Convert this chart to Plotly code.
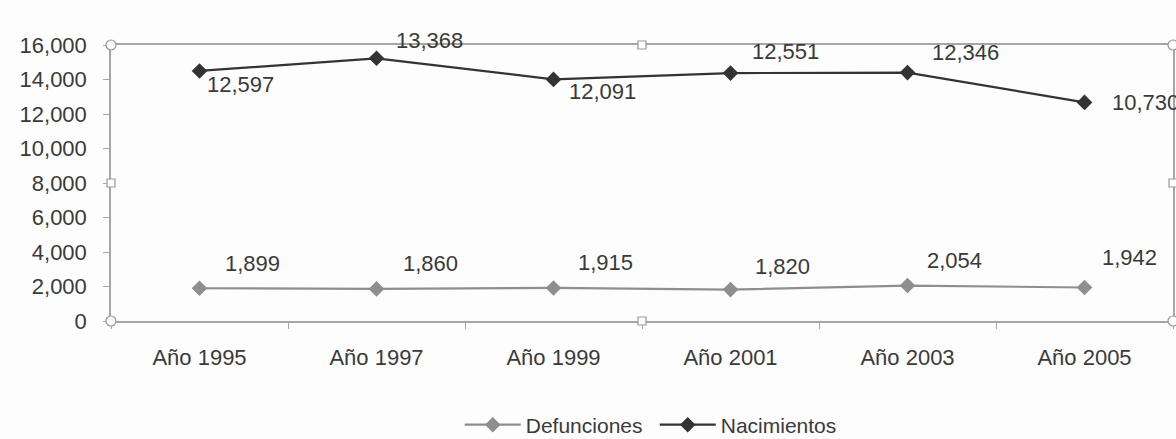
import numpy as np
import plotly.graph_objects as go

categories = ["Año 1995", "Año 1997", "Año 1999", "Año 2001", "Año 2003", "Año 2005"]
defunciones = [1899, 1860, 1915, 1820, 2054, 1942]
nacimientos = [12597, 13368, 12091, 12551, 12346, 10730]
y_ticks = [0, 2000, 4000, 6000, 8000, 10000, 12000, 14000, 16000]

FONT = "Liberation Sans, Arial, sans-serif"
TXT = "#3a3a3a"
DEF_COL = "#8e8e8e"
NAC_COL = "#333333"
AX_COL = "#a6a6a6"

fig = go.Figure()
fig.add_trace(go.Scatter(
    x=categories, y=defunciones, name="Defunciones", mode="lines+markers",
    stackgroup="one", fill="none",
    line=dict(color=DEF_COL, width=2.2),
    marker=dict(symbol="diamond", size=12, color=DEF_COL),
))
fig.add_trace(go.Scatter(
    x=categories, y=nacimientos, name="Nacimientos", mode="lines+markers",
    stackgroup="one", fill="none",
    line=dict(color=NAC_COL, width=2.2),
    marker=dict(symbol="diamond", size=12, color=NAC_COL),
))

stacked_nac = (np.array(defunciones) + np.array(nacimientos)).tolist()

# label offsets (pixels) to mimic the original placement
def_off = [(23, 25), (24, 25), (22, 25), (22, 23), (17, 25), (15, 30)]
nac_off = [(5, -14), (17, 18), (13, -12), (19, 22), (22, 20), (25, 0)]

annotations = []
for i, c in enumerate(categories):
    dx, dy = def_off[i]
    annotations.append(dict(x=c, y=defunciones[i], text=f"{defunciones[i]:,}",
                            xanchor="left", yanchor="middle", xshift=dx, yshift=dy,
                            showarrow=False, font=dict(family=FONT, size=22, color=TXT)))
    dx, dy = nac_off[i]
    annotations.append(dict(x=c, y=stacked_nac[i], text=f"{nacimientos[i]:,}",
                            xanchor="left", yanchor="middle", xshift=dx, yshift=dy,
                            showarrow=False, font=dict(family=FONT, size=22, color=TXT)))

# selection handles (decorative)
shapes = []
handles = [(0, 0, "circle"), (0, 1, "circle"), (1, 0, "circle"), (1, 1, "circle"),
           (0.5, 0, "rect"), (0.5, 1, "rect"), (0, 0.5, "rect"), (1, 0.5, "rect")]
for hx, hy, kind in handles:
    r = 5 if kind == "circle" else 4
    shapes.append(dict(type=kind, xref="paper", yref="paper",
                       xsizemode="pixel", ysizemode="pixel",
                       xanchor=hx, yanchor=hy, x0=-r, x1=r, y0=-r, y1=r,
                       line=dict(color="#9a9a9a", width=1.2), fillcolor="#fdfdfd"))

fig.update_layout(
    width=1176, height=439,
    margin=dict(l=111, r=3, t=45, b=118, autoexpand=False),
    paper_bgcolor="#fdfdfd", plot_bgcolor="#fdfdfd",
    font=dict(family=FONT, size=20, color=TXT),
    showlegend=True,
    legend=dict(orientation="h", x=0.512, xanchor="center", y=-0.377, yanchor="middle",
                font=dict(family=FONT, size=21, color=TXT), traceorder="normal",
                bgcolor="rgba(0,0,0,0)", entrywidth=124, itemwidth=56),
    annotations=annotations,
    shapes=shapes,
)
fig.update_xaxes(
    type="category", range=[-0.5, 5.5], showgrid=False,
    showline=True, linecolor=AX_COL, linewidth=1.5, mirror=True,
    ticks="outside", tickson="boundaries", ticklen=6, tickcolor=AX_COL,
    tickfont=dict(family=FONT, size=22, color=TXT), ticklabelstandoff=16,
)
fig.update_yaxes(
    range=[0, 16000], tickvals=y_ticks, tickformat=",d", showgrid=False, zeroline=False,
    showline=True, linecolor=AX_COL, linewidth=1.5, mirror=True,
    ticks="outside", ticklen=6, tickcolor=AX_COL,
    tickfont=dict(family=FONT, size=22, color=TXT), ticklabelstandoff=12,
)

fig.write_html("out.html", config={"displayModeBar": False},
               post_script="document.body.style.margin='0';document.body.style.overflow='hidden';")
